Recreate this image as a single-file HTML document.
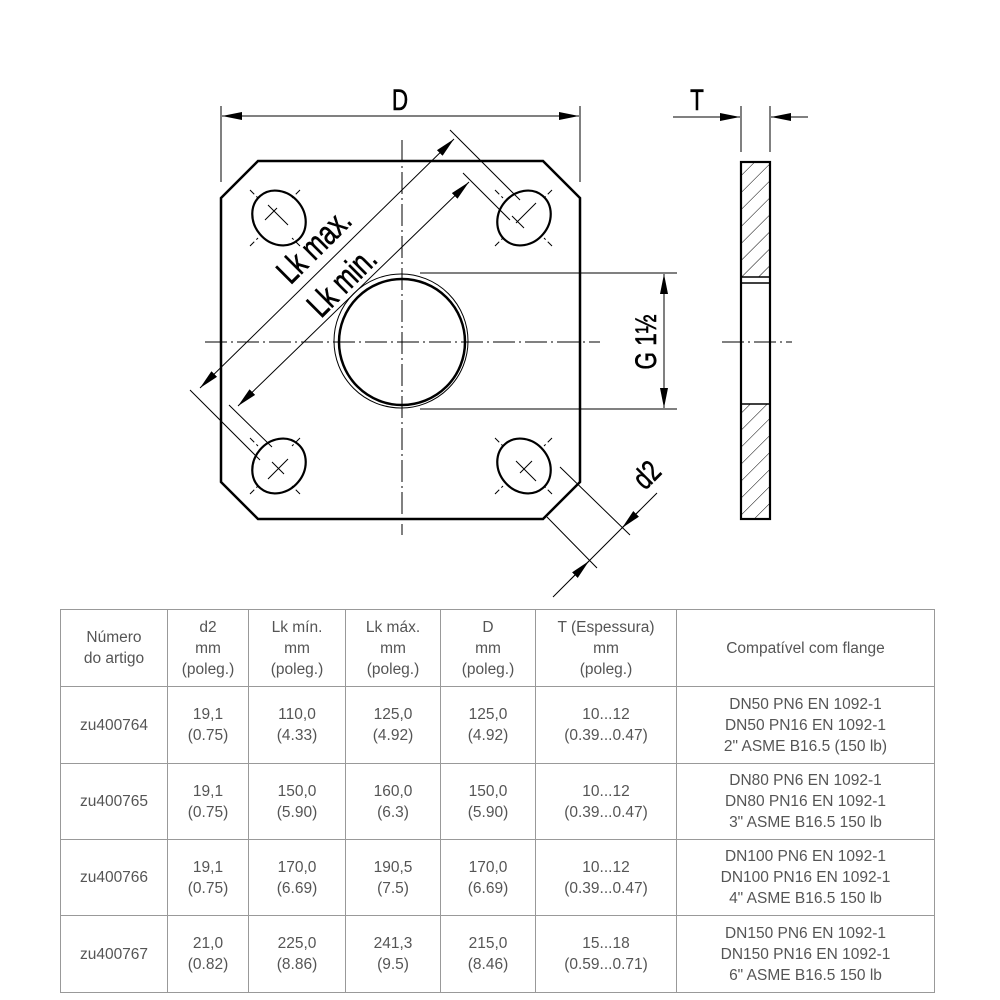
<!DOCTYPE html>
<html><head><meta charset="utf-8"><style>
body{margin:0;background:#fff;width:1000px;height:1000px;overflow:hidden;font-family:"Liberation Sans",sans-serif}
table{position:absolute;left:60px;top:609px;border-collapse:collapse;color:#555;font-size:15.5px;line-height:21px}
td{border:1px solid #999;text-align:center;padding:0}
</style></head><body>
<svg width="1000" height="600" style="position:absolute;left:0;top:0" font-family="Liberation Sans, sans-serif">
<defs>
<marker id="b" viewBox="0 0 20 8" refX="20" refY="4" markerWidth="20" markerHeight="8" orient="auto-start-reverse" markerUnits="userSpaceOnUse"><path d="M0,0L20,4L0,8z"/></marker>
<pattern id="h" patternUnits="userSpaceOnUse" width="12" height="12" patternTransform="rotate(45)"><line x1="0" y1="0" x2="0" y2="12" stroke="#000" stroke-width="1"/></pattern>
</defs>
<g fill="none" stroke="#000">
<path d="M258,161H543L580,198V482L543,519H258L221,482V198Z" stroke-width="2.5"/>
<circle cx="402" cy="342" r="63" stroke-width="2.5"/>
<circle cx="401" cy="341" r="67" stroke-width="1"/>
<path d="M402,140V535M205,342H600" stroke-width="1" stroke-dasharray="22,4,2,4"/>
<g stroke-width="2.2">
<ellipse cx="279" cy="218" rx="29" ry="25" transform="rotate(50 279 218)"/>
<ellipse cx="524" cy="218" rx="29" ry="25" transform="rotate(-50 524 218)"/>
<ellipse cx="279" cy="466" rx="29" ry="25" transform="rotate(-50 279 466)"/>
<ellipse cx="524" cy="466" rx="29" ry="25" transform="rotate(50 524 466)"/>
</g>
<g stroke-width="1">
<path d="M268,205l20,20M265,220l12,-12M516,223l20,-20M524,228l-12,-12M268,479l20,-20M272,462l12,12M516,461l20,20M520,473l12,-12"/>
<path d="M250,190l8,8M300,190l-8,8M250,246l8,-8M300,246l-8,-8M495,190l8,8M552,190l-8,8M495,246l8,-8M552,246l-8,-8M250,438l8,8M300,438l-8,8M250,494l8,-8M300,494l-8,-8M495,438l8,8M552,438l-8,8M495,494l8,-8M552,494l-8,-8" stroke-dasharray="6,3"/>
</g>
<path d="M221,106V182M580,106V182" stroke-width="1"/>
<line x1="222" y1="116" x2="579" y2="116" stroke-width="1" marker-start="url(#b)" marker-end="url(#b)"/>
<path d="M450,130L520,200M190,390L260,460M463,173L510,220M229,405L272,447" stroke-width="1"/>
<line x1="200" y1="388" x2="454" y2="139" stroke-width="1" marker-start="url(#b)" marker-end="url(#b)"/>
<line x1="238" y1="406" x2="469" y2="182" stroke-width="1" marker-start="url(#b)" marker-end="url(#b)"/>
<path d="M420,273H677M420,409H677" stroke-width="1"/>
<line x1="664" y1="274" x2="664" y2="408" stroke-width="1" marker-start="url(#b)" marker-end="url(#b)"/>
<path d="M560,467L630,535M547,517L597,568M657,493L553,597" stroke-width="1"/>
<line x1="640" y1="510" x2="622" y2="528" stroke-width="1" marker-end="url(#b)"/>
<line x1="570" y1="580" x2="589" y2="561" stroke-width="1" marker-end="url(#b)"/>
<rect x="741" y="162" width="29" height="115" fill="url(#h)" stroke="none"/>
<rect x="741" y="404" width="29" height="115" fill="url(#h)" stroke="none"/>
<rect x="741" y="162" width="29" height="357" stroke-width="2.2"/>
<path d="M741,277H770M741,283H770M741,404H770" stroke-width="1.5"/>
<path d="M722,342H792" stroke-width="1" stroke-dasharray="22,4,2,4"/>
<path d="M741,106V152M770,106V152" stroke-width="1"/>
<line x1="673" y1="117" x2="740" y2="117" stroke-width="1" marker-end="url(#b)"/>
<line x1="808" y1="117" x2="771" y2="117" stroke-width="1" marker-end="url(#b)"/>
</g>
<g font-size="30" fill="#000" stroke="#000" stroke-width="0.6">
<text transform="translate(400,110) scale(0.75,1)" text-anchor="middle">D</text>
<text transform="translate(697,110) scale(0.75,1)" text-anchor="middle">T</text>
<text transform="translate(656,342) rotate(-90) scale(0.75,1)" text-anchor="middle">G 1½</text>
<text transform="translate(654,482) rotate(-45) scale(0.75,1)" text-anchor="middle">d2</text>
<text transform="translate(322,254) rotate(-45) scale(0.75,1)" text-anchor="middle" font-size="34">Lk max.</text>
<text transform="translate(350,290) rotate(-45) scale(0.75,1)" text-anchor="middle" font-size="34">Lk min.</text>
</g>
</svg>
<table>
<tr style="height:77px"><td style="width:106px">Número<br>do artigo</td><td style="width:80px">d2<br>mm<br>(poleg.)</td><td style="width:96px">Lk mín.<br>mm<br>(poleg.)</td><td style="width:94px">Lk máx.<br>mm<br>(poleg.)</td><td style="width:94px">D<br>mm<br>(poleg.)</td><td style="width:140px">T (Espessura)<br>mm<br>(poleg.)</td><td style="width:257px">Compatível com flange</td></tr>
<tr style="height:77px"><td>zu400764</td><td>19,1<br>(0.75)</td><td>110,0<br>(4.33)</td><td>125,0<br>(4.92)</td><td>125,0<br>(4.92)</td><td>10...12<br>(0.39...0.47)</td><td>DN50 PN6 EN 1092-1<br>DN50 PN16 EN 1092-1<br>2" ASME B16.5 (150 lb)</td></tr>
<tr style="height:76px"><td>zu400765</td><td>19,1<br>(0.75)</td><td>150,0<br>(5.90)</td><td>160,0<br>(6.3)</td><td>150,0<br>(5.90)</td><td>10...12<br>(0.39...0.47)</td><td>DN80 PN6 EN 1092-1<br>DN80 PN16 EN 1092-1<br>3" ASME B16.5 150 lb</td></tr>
<tr style="height:76px"><td>zu400766</td><td>19,1<br>(0.75)</td><td>170,0<br>(6.69)</td><td>190,5<br>(7.5)</td><td>170,0<br>(6.69)</td><td>10...12<br>(0.39...0.47)</td><td>DN100 PN6 EN 1092-1<br>DN100 PN16 EN 1092-1<br>4" ASME B16.5 150 lb</td></tr>
<tr style="height:77px"><td>zu400767</td><td>21,0<br>(0.82)</td><td>225,0<br>(8.86)</td><td>241,3<br>(9.5)</td><td>215,0<br>(8.46)</td><td>15...18<br>(0.59...0.71)</td><td>DN150 PN6 EN 1092-1<br>DN150 PN16 EN 1092-1<br>6" ASME B16.5 150 lb</td></tr>
</table>
</body></html>
